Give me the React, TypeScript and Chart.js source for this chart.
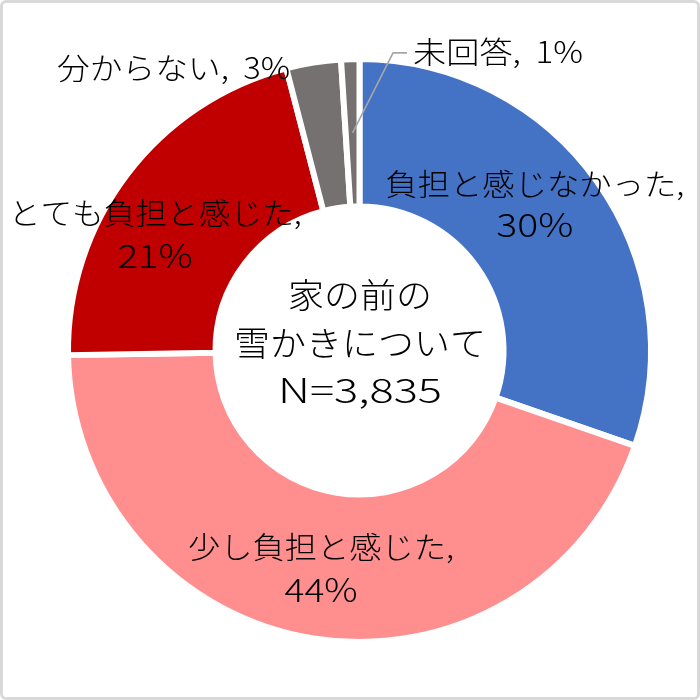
import React, { useEffect, useRef } from "react";
import { Chart, registerables } from "chart.js";

Chart.register(...registerables);

// ---- data ----
const categories = ["負担と感じなかった", "少し負担と感じた", "とても負担と感じた", "分からない", "未回答"];
const percents = [30, 44, 21, 3, 1];
const colors = ["#4472C4", "#FF8F8F", "#C00000", "#767171", "#767171"];
const centerLines = ["家の前の", "雪かきについて", "N=3,835"];

// ---- layout / style (not data) ----
const FONT_FAMILY = "'Noto Sans CJK JP', 'Noto Sans', sans-serif";
const FONT_WEIGHT = 300;
const LABEL_SIZE = 30;
const NUM_SIZE = 33;
const CENTER_SIZE = 34;

type LabelLayout = {
  mode: "two" | "one" | "leader";
  dx: number;
  dy: number;
  gap?: number;
  align?: CanvasTextAlign;
  widths: number[];
};

const labelLayout: LabelLayout[] = [
  { mode: "two", dx: -2, dy: -20, gap: 41, widths: [299, 77] },
  { mode: "two", dx: -4, dy: 2.5, gap: 42, widths: [266, 73] },
  { mode: "two", dx: -31, dy: 15, gap: 43, widths: [293, 75] },
  { mode: "one", dx: -35, dy: -67.5, align: "right", widths: [233] },
  { mode: "leader", dx: 60.5, dy: -81, align: "left", widths: [170] },
];
const centerOffsets = [-55.5, -7.5, 39.5];
const centerWidths = [144, 252, 164];

function fitText(
  ctx: CanvasRenderingContext2D,
  text: string,
  x: number,
  y: number,
  width: number,
  align: CanvasTextAlign
) {
  const natural = ctx.measureText(text).width || 1;
  const s = width / natural;
  ctx.save();
  ctx.translate(x, y);
  ctx.scale(s, 1);
  ctx.textAlign = align;
  ctx.fillText(text, 0, 0);
  ctx.restore();
}

const labelPlugin = {
  id: "donutLabels",
  afterDatasetsDraw(chart: any) {
    const ctx: CanvasRenderingContext2D = chart.ctx;
    const meta = chart.getDatasetMeta(0);
    ctx.save();
    ctx.fillStyle = "#000000";
    ctx.textBaseline = "middle";
    meta.data.forEach((arc: any, i: number) => {
      const pos = arc.tooltipPosition(false);
      const L = labelLayout[i];
      const cat = categories[i];
      const pct = `${percents[i]}%`;
      if (L.mode === "two") {
        const cx = pos.x + L.dx;
        const cy = pos.y + L.dy;
        const g = L.gap || 41;
        ctx.font = `${FONT_WEIGHT} ${LABEL_SIZE}px ${FONT_FAMILY}`;
        fitText(ctx, `${cat},`, cx, cy - g / 2, L.widths[0], "center");
        ctx.font = `${FONT_WEIGHT} ${NUM_SIZE}px ${FONT_FAMILY}`;
        fitText(ctx, pct, cx, cy + g / 2, L.widths[1], "center");
      } else {
        if (L.mode === "leader") {
          const ex = pos.x + 40.5;
          const ey = pos.y + L.dy + 1;
          ctx.strokeStyle = "#A6A6A6";
          ctx.lineWidth = 1.6;
          ctx.beginPath();
          ctx.moveTo(pos.x, pos.y);
          ctx.lineTo(ex, ey);
          ctx.lineTo(ex + 14, ey);
          ctx.stroke();
        }
        ctx.font = `${FONT_WEIGHT} ${LABEL_SIZE}px ${FONT_FAMILY}`;
        fitText(ctx, `${cat},  ${pct}`, pos.x + L.dx, pos.y + L.dy, L.widths[0], L.align || "left");
      }
    });
    const c = meta.data[0];
    ctx.font = `${FONT_WEIGHT} ${CENTER_SIZE}px ${FONT_FAMILY}`;
    centerLines.forEach((t, i) => fitText(ctx, t, c.x + 0.5, c.y + centerOffsets[i], centerWidths[i], "center"));
    ctx.restore();
  },
};

export default function App() {
  const ref = useRef<HTMLCanvasElement>(null);
  useEffect(() => {
    const chart = new Chart(ref.current as HTMLCanvasElement, {
      type: "doughnut",
      data: {
        labels: categories,
        datasets: [
          {
            data: percents,
            backgroundColor: colors,
            borderColor: "#FFFFFF",
            borderWidth: 6,
          },
        ],
      },
      options: {
        animation: false,
        responsive: false,
        events: [],
        radius: 291.5,
        cutout: "49.4%",
        layout: { padding: { left: 19, top: 1, right: 0, bottom: 0 } },
        plugins: { legend: { display: false }, tooltip: { enabled: false } },
      } as any,
      plugins: [labelPlugin as any],
    });
    return () => chart.destroy();
  }, []);
  return (
    <div style={{ position: "fixed", left: 0, top: 0, width: 700, height: 700, background: "#FFFFFF" }}>
      <canvas ref={ref} width={700} height={700} style={{ position: "absolute", left: 0, top: 0 }} />
      <div
        style={{
          position: "absolute",
          inset: 0,
          border: "3px solid #D9D9D9",
          borderRadius: 6,
          boxSizing: "border-box",
          pointerEvents: "none",
        }}
      />
    </div>
  );
}
